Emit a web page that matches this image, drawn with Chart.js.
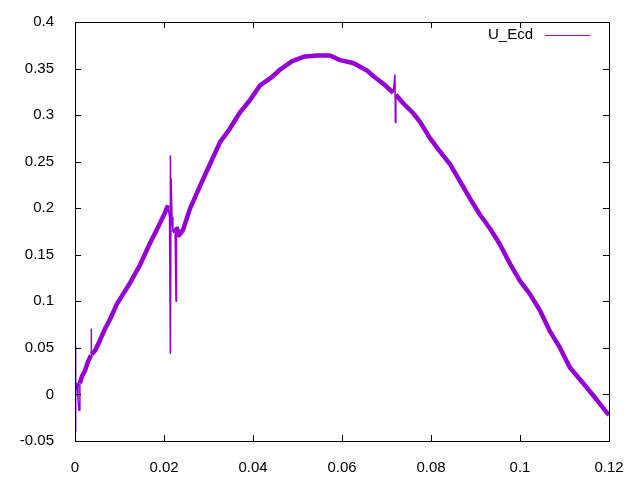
<!DOCTYPE html>
<html>
<head>
<meta charset="utf-8">
<script src="https://cdn.jsdelivr.net/npm/chart.js@4"></script>
<style>
  html, body { margin: 0; padding: 0; background: #fff; }
  #wrap { width: 640px; height: 480px; }
</style>
</head>
<body>
<div id="wrap"><canvas id="chart"></canvas></div>
<script>
// values
const seriesLabel = 'U_Ecd';
const xValues = [
    0.00007, 0.00010, 0.00020, 0.00045, 0.00067, 0.00090, 0.0011, 0.0016, 0.0022, 0.0029,
    0.0036, 0.00365, 0.0037, 0.0045, 0.0056, 0.0067, 0.0079, 0.0094, 0.0124, 0.0146,
    0.0169, 0.0184, 0.0202, 0.0209, 0.02124, 0.02135, 0.0214, 0.02147, 0.0216, 0.0218,
    0.0220, 0.0225, 0.0227, 0.0228, 0.0234, 0.0243, 0.0258, 0.0281, 0.0303, 0.0326,
    0.0346, 0.0371, 0.0393, 0.0416, 0.0443, 0.0461, 0.0488, 0.0517, 0.0544, 0.0573,
    0.0596, 0.0625, 0.0656, 0.0670, 0.0692, 0.0715, 0.0719, 0.0720, 0.0721, 0.0737,
    0.0760, 0.0775, 0.0798, 0.0820, 0.0843, 0.0865, 0.0888, 0.0910, 0.0933, 0.0955,
    0.0978, 0.1000, 0.1022, 0.1045, 0.1067, 0.1090, 0.1112, 0.1142, 0.1173, 0.1196,
    0.1200
];
const yValues = [
    0.052, -0.040, 0.005, 0.012, -0.005, -0.017, 0.012, 0.020, 0.025, 0.035,
    0.042, 0.070, 0.043, 0.047, 0.058, 0.070, 0.081, 0.097, 0.120, 0.139,
    0.163, 0.177, 0.195, 0.203, 0.190, 0.102, 0.256, 0.044, 0.232, 0.190,
    0.177, 0.175, 0.100, 0.180, 0.171, 0.177, 0.199, 0.224, 0.247, 0.271,
    0.284, 0.303, 0.316, 0.332, 0.341, 0.349, 0.358, 0.363, 0.364, 0.364,
    0.359, 0.356, 0.348, 0.342, 0.334, 0.324, 0.343, 0.292, 0.322, 0.313,
    0.302, 0.293, 0.275, 0.261, 0.247, 0.229, 0.210, 0.193, 0.178, 0.161,
    0.140, 0.122, 0.108, 0.090, 0.068, 0.050, 0.029, 0.012, -0.006, -0.020,
    -0.022
];
const xTicks = [0, 0.02, 0.04, 0.06, 0.08, 0.1, 0.12];
const yTicks = [-0.05, 0, 0.05, 0.1, 0.15, 0.2, 0.25, 0.3, 0.35, 0.4];

const lineColor = '#9400d3';
const fontFamily = '"Liberation Sans", Arial, sans-serif';

const points = xValues.map((x, i) => ({ x: x, y: yValues[i] }));

// gnuplot style frame: box round the plot, ticks pointing inwards, key inside top right
const gnuplotFrame = {
    id: 'gnuplotFrame',
    afterDraw(chart) {
        const { ctx, chartArea: a, scales } = chart;
        const len = 6;
        ctx.save();
        ctx.strokeStyle = '#000';
        ctx.lineWidth = 1;
        ctx.beginPath();
        xTicks.forEach((v) => {
            const px = Math.round(scales.x.getPixelForValue(v)) + 0.5;
            ctx.moveTo(px, a.bottom);
            ctx.lineTo(px, a.bottom - len);
            ctx.moveTo(px, a.top);
            ctx.lineTo(px, a.top + len);
        });
        yTicks.forEach((v) => {
            const py = Math.round(scales.y.getPixelForValue(v)) + 0.5;
            ctx.moveTo(a.left, py);
            ctx.lineTo(a.left + len, py);
            ctx.moveTo(a.right, py);
            ctx.lineTo(a.right - len, py);
        });
        ctx.stroke();
        ctx.strokeRect(Math.round(a.left) + 0.5, Math.round(a.top) + 0.5,
            Math.round(a.right - a.left), Math.round(a.bottom - a.top));

        // key
        const label = chart.data.datasets[0].label;
        const ky = a.top + 13;
        ctx.font = '15px ' + fontFamily;
        ctx.fillStyle = '#000';
        ctx.textAlign = 'right';
        ctx.textBaseline = 'middle';
        ctx.fillText(label, a.right - 76, ky);
        ctx.strokeStyle = lineColor;
        ctx.beginPath();
        ctx.moveTo(a.right - 64, ky + 0.5);
        ctx.lineTo(a.right - 19, ky + 0.5);
        ctx.stroke();
        ctx.restore();
    }
};

// spikes are near vertical jumps, drawn as thin strokes
function isSpike(c) {
    const dx = Math.abs(c.p1.x - c.p0.x);
    const dy = Math.abs(c.p1.y - c.p0.y);
    return dy > 4 * dx + 6;
}

new Chart(document.getElementById('chart'), {
    type: 'line',
    data: {
        datasets: [{
            label: seriesLabel,
            data: points,
            borderColor: lineColor,
            borderWidth: 4.5,
            borderJoinStyle: 'round',
            borderCapStyle: 'butt',
            pointRadius: 0,
            tension: 0,
            segment: {
                borderWidth: (c) => isSpike(c) ? 1.5 : 4.5
            }
        }]
    },
    options: {
        responsive: true,
        maintainAspectRatio: false,
        animation: false,
        layout: { padding: { top: 20, right: 31, left: 0, bottom: 0 } },
        plugins: {
            legend: { display: false },
            tooltip: { enabled: false }
        },
        scales: {
            x: {
                type: 'linear',
                min: 0,
                max: 0.12,
                afterFit: (s) => { s.height = 39; },
                afterBuildTicks: (s) => { s.ticks = xTicks.map((v) => ({ value: v })); },
                grid: { display: false },
                border: { display: false },
                ticks: {
                    color: '#000',
                    padding: 10,
                    maxRotation: 0,
                    autoSkip: false,
                    font: { family: fontFamily, size: 15 },
                    callback: (v) => String(Math.round(v * 100) / 100)
                }
            },
            y: {
                type: 'linear',
                min: -0.05,
                max: 0.4,
                afterFit: (s) => { s.width = 75; },
                afterBuildTicks: (s) => { s.ticks = yTicks.map((v) => ({ value: v })); },
                grid: { display: false },
                border: { display: false },
                ticks: {
                    color: '#000',
                    padding: 13,
                    autoSkip: false,
                    font: { family: fontFamily, size: 15 },
                    callback: (v) => String(Math.round(v * 100) / 100)
                }
            }
        }
    },
    plugins: [gnuplotFrame]
});
</script>
</body>
</html>
